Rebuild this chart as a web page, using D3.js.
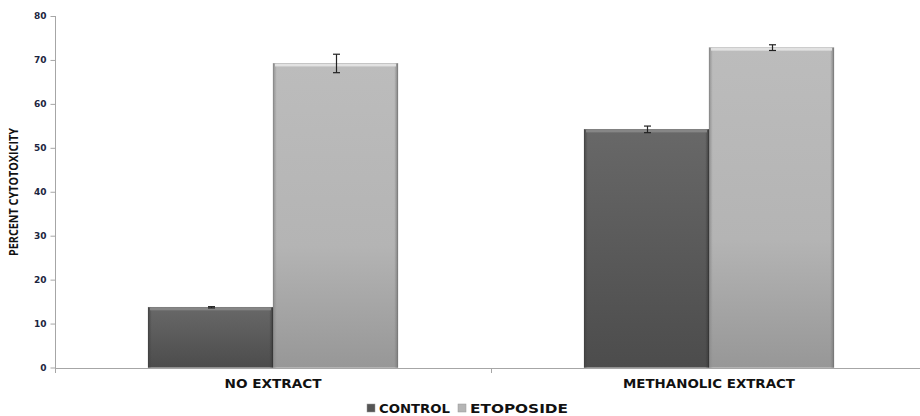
<!DOCTYPE html>
<html><head><meta charset="utf-8">
<script src="https://cdn.jsdelivr.net/npm/d3@7"></script>
<style>body{margin:0;background:#fff}svg{display:block}</style>
</head><body>
<svg id="c" width="920" height="416"></svg>
<script>
const categories = ["NO EXTRACT", "METHANOLIC EXTRACT"];
const seriesNames = ["CONTROL", "ETOPOSIDE"];
const controlValues = [13.7, 54.2];
const controlErrors = [0.15, 0.75];
const etoposideValues = [69.2, 72.8];
const etoposideErrors = [2.1, 0.65];
const yTicks = [0, 10, 20, 30, 40, 50, 60, 70, 80];

const svg = d3.select("#c");
const m = {left: 55, top: 16, bottom: 48};
const H = 416, plotRight = 927;
const y = d3.scaleLinear().domain([0, 80]).range([367.5, 16]);
const x0 = d3.scaleBand().domain(categories).range([m.left, plotRight]).paddingInner(0).paddingOuter(0);
const x1 = d3.scaleBand().domain(seriesNames).range([0, x0.bandwidth()]).paddingInner(0).paddingOuter(0.744);

const defs = svg.append("defs");
function grad(id, stops){
  const g = defs.append("linearGradient").attr("id", id).attr("x1",0).attr("y1",0).attr("x2",0).attr("y2",1);
  stops.forEach(s => g.append("stop").attr("offset", s[0]).attr("stop-color", s[1]));
}
grad("gC", [[0,"#686868"],[1,"#4c4c4c"]]);
grad("gE", [[0,"#bcbcbc"],[0.6,"#b4b4b4"],[1,"#979797"]]);
function hgrad(id, c1, c2){
  const g = defs.append("linearGradient").attr("id", id).attr("x1",0).attr("y1",0).attr("x2",1).attr("y2",0);
  g.append("stop").attr("offset",0).attr("stop-color",c1).attr("stop-opacity",0.9);
  g.append("stop").attr("offset",0.03).attr("stop-color",c1).attr("stop-opacity",0);
  g.append("stop").attr("offset",0.97).attr("stop-color",c2).attr("stop-opacity",0);
  g.append("stop").attr("offset",1).attr("stop-color",c2).attr("stop-opacity",0.9);
}
hgrad("sideC", "#444", "#3a3a3a");
hgrad("sideE", "#8a8a8a", "#7a7a7a");

const series = [
  {name: "CONTROL", values: controlValues, errors: controlErrors, fill: "url(#gC)", side: "url(#sideC)", top: "#8a8a8a", sw: "#555"},
  {name: "ETOPOSIDE", values: etoposideValues, errors: etoposideErrors, fill: "url(#gE)", side: "url(#sideE)", top: "#e6e6e6", sw: "#b5b5b5"}
];

// bars
series.forEach(s => {
  categories.forEach((c, i) => {
    const bx = x0(c) + x1(s.name), bw = x1.bandwidth();
    const by = y(s.values[i]), bh = y(0) - by;
    svg.append("rect").attr("x", bx).attr("y", by).attr("width", bw).attr("height", bh).attr("fill", s.fill);
    svg.append("rect").attr("x", bx).attr("y", by).attr("width", bw).attr("height", bh).attr("fill", s.side);
    svg.append("rect").attr("x", bx + 2).attr("y", by).attr("width", bw - 4).attr("height", 3).attr("fill", s.top).attr("opacity", 0.9);
    svg.append("rect").attr("x", bx).attr("y", by).attr("width", bw).attr("height", bh).attr("fill", "none").attr("stroke", "rgba(0,0,0,0.15)").attr("stroke-width", 0.8);
  });
});

// error bars
series.forEach(s => {
  categories.forEach((c, i) => {
    const cx = Math.round(x0(c) + x1(s.name) + x1.bandwidth() / 2) + 0.5;
    const yt = y(s.values[i] + s.errors[i]), yb = y(s.values[i] - s.errors[i]);
    const g = svg.append("g").attr("stroke", "#222").attr("stroke-width", 1.2);
    g.append("line").attr("x1", cx).attr("x2", cx).attr("y1", yt).attr("y2", yb);
    g.append("line").attr("x1", cx - 3.5).attr("x2", cx + 3.5).attr("y1", yt).attr("y2", yt);
    g.append("line").attr("x1", cx - 3.5).attr("x2", cx + 3.5).attr("y1", yb).attr("y2", yb);
  });
});

// y axis
const yAxis = d3.axisLeft(y).tickValues(yTicks).tickSize(5).tickPadding(4).tickFormat(d3.format("d"));
const ga = svg.append("g").attr("transform", `translate(${m.left + 0.5},0)`).call(yAxis);
ga.select(".domain").attr("stroke", "#a6a6a6").attr("d", `M0,${y(80)}V${y(0) + 5}`);
ga.selectAll(".tick line").attr("stroke", "#a6a6a6");
ga.selectAll(".tick text").attr("font-family", "DejaVu Sans, Verdana, sans-serif").attr("font-weight", "bold").attr("font-size", 9).attr("fill", "#1c2540");

// x axis
const xAxis = d3.axisBottom(x0).tickSize(5).tickSizeOuter(0).tickFormat("");
const gx = svg.append("g").attr("transform", `translate(0,${y(0) + 0.5})`).call(xAxis);
gx.select(".domain").attr("stroke", "#a6a6a6").attr("stroke-width", 1.2);
gx.selectAll(".tick").remove();
const bounds = [m.left, x0(categories[1])];
bounds.forEach(b => gx.append("line").attr("x1", b + 0.5).attr("x2", b + 0.5).attr("y1", 0).attr("y2", 5).attr("stroke", "#a6a6a6"));

// category labels
const catLen = [97, 172];
categories.forEach((c, i) => {
  svg.append("text").attr("x", x0(c) + x0.bandwidth() / 2).attr("y", y(0) + 20)
    .attr("text-anchor", "middle").attr("font-family", "DejaVu Sans, Verdana, sans-serif")
    .attr("font-weight", "bold").attr("font-size", 11.5).attr("fill", "#111")
    .attr("textLength", catLen[i]).attr("lengthAdjust", "spacingAndGlyphs").text(c);
});

// y title
svg.append("text").attr("transform", `translate(18,192) rotate(-90)`)
  .attr("text-anchor", "middle").attr("font-family", "Liberation Sans Narrow, Open Sans, sans-serif")
  .attr("font-weight", "bold").attr("font-size", 11.5).attr("fill", "#111")
  .attr("textLength", 128).attr("lengthAdjust", "spacingAndGlyphs").text("PERCENT CYTOTOXICITY");

// legend
const legend = svg.append("g").attr("transform", "translate(367,404)");
const lx = [0, 91];
const legLen = [71, 98];
series.forEach((s, i) => {
  const g = legend.append("g").attr("transform", `translate(${lx[i]},0)`);
  g.append("rect").attr("x", 0).attr("y", 0).attr("width", 8).attr("height", 8).attr("fill", s.sw).attr("stroke", "#999").attr("stroke-width", 0.5);
  g.append("text").attr("x", 12).attr("y", 8.5).attr("font-family", "DejaVu Sans, Verdana, sans-serif")
    .attr("font-weight", "bold").attr("font-size", 11.5).attr("fill", "#111")
    .attr("textLength", legLen[i]).attr("lengthAdjust", "spacingAndGlyphs").text(s.name);
});
</script>
</body></html>
